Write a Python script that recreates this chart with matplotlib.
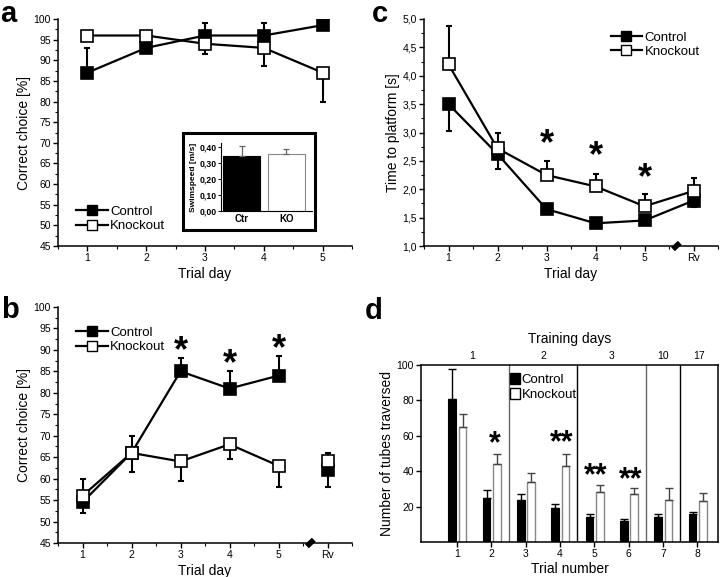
import numpy as np
import matplotlib.pyplot as plt
import matplotlib.transforms as mtransforms
from matplotlib.patches import Rectangle, Patch
from matplotlib.ticker import MultipleLocator, FuncFormatter

plt.rcParams['font.family'] = ['Liberation Sans', 'DejaVu Sans']

# ---- panel a: correct choice over 5 trial days ----
days_a = [1, 2, 3, 4, 5]
ctrl_a = [87, 93, 96, 96, 98.5]
ctrl_a_up = [6, 2.5, 3, 3, 1.2]
ko_a = [96, 96, 94, 93, 87]
ko_a_dn = [0, 0, 2.5, 4.5, 7]

# inset: swim speed
swim_groups = ['Ctr', 'KO']
swim_speed = [0.345, 0.357]
swim_err = [0.06, 0.03]

# ---- panel b: correct choice, with reversal (Rv) ----
day_labels = ['1', '2', '3', '4', '5', 'Rv']
ctrl_b = [54.5, 66, 85, 81, 84, 62]
ctrl_b_dn = [2.5, 4.5, 0, 0, 0, 4]
ctrl_b_up = [0, 0, 3, 4, 4.5, 0]
ko_b = [56, 66, 64, 68, 63, 64]
ko_b_dn = [0, 0, 4.5, 3.5, 5, 0]
ko_b_up = [4, 4, 0, 0, 0, 2]
star_b = [89.5, 86.5, 90]

# ---- panel c: time to platform ----
ctrl_c = [3.5, 2.62, 1.65, 1.4, 1.45, 1.8]
ctrl_c_dn = [0.48, 0.27, 0, 0, 0.07, 0.12]
ko_c = [4.2, 2.72, 2.25, 2.05, 1.7, 1.97]
ko_c_up = [0.67, 0.28, 0.25, 0.22, 0.22, 0.23]
star_c = [2.78, 2.57, 2.19]

# ---- panel d: tubes traversed ----
trials = [1, 2, 3, 4, 5, 6, 7, 8]
ctrl_d = [81, 25, 24, 19, 14, 12, 14, 16]
ctrl_d_err = [17, 4.5, 3, 2.5, 2, 1, 2, 1.2]
ko_d = [65, 44, 34, 43, 28, 27, 24, 23]
ko_d_err = [7.5, 6, 5, 7, 4, 3.5, 6.5, 4.5]
sig_d = ['', '*', '', '**', '**', '**', '', '']
sig_d_y = [0, 55, 0, 56, 37, 35, 0, 0]
training_days = ['1', '2', '3', '10', '17']
training_pos = [1.45, 3.5, 5.5, 7.0, 8.05]
day_bounds = [2.5, 4.5, 6.5, 7.5]

fig = plt.figure(figsize=(7.2, 5.77), dpi=100)

LW = 1.6
MS = 8.5


def style_axes(ax):
    ax.spines['top'].set_visible(False)
    ax.spines['right'].set_visible(False)
    for s in ['left', 'bottom']:
        ax.spines[s].set_linewidth(1.1)
    ax.tick_params(which='major', direction='out', length=3.5, width=1, labelsize=7.5, pad=1.5)
    ax.tick_params(which='minor', direction='out', length=2, width=0.8)


def draw_break(ax, x):
    tr = mtransforms.blended_transform_factory(ax.transData, ax.transAxes)
    ax.plot([x - 0.07, x + 0.07], [-0.014, 0.014], transform=tr, color='black',
            lw=4, clip_on=False, solid_capstyle='butt', zorder=5)


def series(ax, x, y, lo, hi, filled, connect=None):
    fc = 'black' if filled else 'white'
    n = len(x) if connect is None else connect
    ax.plot(x[:n], y[:n], color='black', lw=LW, zorder=2)
    ax.errorbar(x, y, yerr=[lo, hi], fmt='none', ecolor='black', elinewidth=1.5,
                capsize=2.5, capthick=1.5, zorder=2)
    ax.plot(x, y, 's', ms=MS, mfc=fc, mec='black', mew=1.2, linestyle='none',
            zorder=3 if filled else 4)


def line_legend(ax, **kw):
    h1, = ax.plot([], [], '-s', color='black', lw=LW, ms=7.5, mfc='black', mec='black')
    h2, = ax.plot([], [], '-s', color='black', lw=LW, ms=7.5, mfc='white', mec='black')
    ax.legend([h1, h2], ['Control', 'Knockout'], frameon=False, fontsize=9.5,
              handlelength=2.4, handletextpad=0.2, labelspacing=0.15, borderpad=0.2, **kw)


# ---------------- panel a ----------------
ax_a = fig.add_axes([58 / 720, 1 - 246 / 577, 294 / 720, 227 / 577])
style_axes(ax_a)
series(ax_a, days_a, ctrl_a, [0] * 5, ctrl_a_up, True)
series(ax_a, days_a, ko_a, ko_a_dn, [0] * 5, False)
ax_a.set_xlim(0.5, 5.5)
ax_a.set_ylim(45, 100)
ax_a.yaxis.set_major_locator(MultipleLocator(5))
ax_a.yaxis.set_minor_locator(MultipleLocator(2.5))
ax_a.xaxis.set_major_locator(MultipleLocator(1))
ax_a.xaxis.set_minor_locator(MultipleLocator(0.5))
ax_a.set_xlabel('Trial day', fontsize=10, labelpad=3)
ax_a.set_ylabel('Correct choice [%]', fontsize=10, labelpad=2)
line_legend(ax_a, loc='lower left', bbox_to_anchor=(0.03, 0.02))

# inset frame and axes
fig.add_artist(Rectangle((183 / 720, 1 - 230 / 577), 132 / 720, 97 / 577,
                         transform=fig.transFigure, fill=False, lw=2.2, ec='black'))
ax_i = fig.add_axes([221 / 720, 1 - 211 / 577, 91 / 720, 68 / 577])
ax_i.spines['top'].set_visible(False)
ax_i.spines['right'].set_visible(False)
ax_i.bar([0, 1], swim_speed, width=0.83, color=['black', 'white'],
         edgecolor=['black', '#888888'], lw=0.8)
ax_i.errorbar([0, 1], swim_speed, yerr=[[0, 0], swim_err], fmt='none', ecolor='#666666',
              elinewidth=0.9, capsize=2.5, capthick=0.9)
ax_i.set_xlim(-0.46, 1.58)
ax_i.set_ylim(0, 0.425)
ax_i.set_yticks([0, 0.1, 0.2, 0.3, 0.4])
ax_i.yaxis.set_major_formatter(FuncFormatter(lambda v, _: f'{v:.2f}'.replace('.', ',')))
ax_i.set_xticks([0, 1])
ax_i.set_xticklabels(swim_groups, fontweight='bold', fontsize=7)
ax_i.tick_params(axis='y', labelsize=6.3, length=2, width=0.7, pad=1)
ax_i.tick_params(axis='x', length=0, pad=2)
for lab in ax_i.get_yticklabels():
    lab.set_fontweight('bold')
ax_i.set_ylabel('Swimspeed [m/s]', fontsize=6, fontweight='bold', labelpad=2)
for s in ['left', 'bottom']:
    ax_i.spines[s].set_linewidth(0.8)

# ---------------- panel b ----------------
x6 = np.arange(1, 7)
ax_b = fig.add_axes([58 / 720, 1 - 543 / 577, 294 / 720, 236 / 577])
style_axes(ax_b)
series(ax_b, x6, ctrl_b, ctrl_b_dn, ctrl_b_up, True, connect=5)
series(ax_b, x6, ko_b, ko_b_dn, ko_b_up, False, connect=5)
ax_b.set_xlim(0.5, 6.5)
ax_b.set_ylim(45, 100)
ax_b.yaxis.set_major_locator(MultipleLocator(5))
ax_b.yaxis.set_minor_locator(MultipleLocator(2.5))
ax_b.set_xticks(x6)
ax_b.set_xticklabels(day_labels)
ax_b.xaxis.set_minor_locator(MultipleLocator(0.5))
ax_b.set_xlabel('Trial day', fontsize=10, labelpad=3)
ax_b.set_ylabel('Correct choice [%]', fontsize=10, labelpad=2)
for xi, yi in zip([3, 4, 5], star_b):
    ax_b.text(xi, yi, '*', fontsize=26, fontweight='bold', ha='center', va='center')
draw_break(ax_b, 5.65)
line_legend(ax_b, loc='upper left', bbox_to_anchor=(0.03, 0.955))

# ---------------- panel c ----------------
ax_c = fig.add_axes([424 / 720, 1 - 246 / 577, 294 / 720, 227 / 577])
style_axes(ax_c)
series(ax_c, x6, ctrl_c, ctrl_c_dn, [0] * 6, True)
series(ax_c, x6, ko_c, [0] * 6, ko_c_up, False)
ax_c.set_xlim(0.5, 6.5)
ax_c.set_ylim(1.0, 5.0)
ax_c.yaxis.set_major_locator(MultipleLocator(0.5))
ax_c.yaxis.set_minor_locator(MultipleLocator(0.25))
ax_c.yaxis.set_major_formatter(FuncFormatter(lambda v, _: f'{v:.1f}'.replace('.', ',')))
ax_c.set_xticks(x6)
ax_c.set_xticklabels(day_labels)
ax_c.xaxis.set_minor_locator(MultipleLocator(0.5))
ax_c.set_xlabel('Trial day', fontsize=10, labelpad=3)
ax_c.set_ylabel('Time to platform [s]', fontsize=10, labelpad=2)
for xi, yi in zip([3, 4, 5], star_c):
    ax_c.text(xi, yi, '*', fontsize=26, fontweight='bold', ha='center', va='center')
draw_break(ax_c, 5.65)
line_legend(ax_c, loc='upper right', bbox_to_anchor=(0.97, 0.985))

# ---------------- panel d ----------------
ax_d = fig.add_axes([421 / 720, 1 - 542 / 577, 297 / 720, 177 / 577])
t = np.array(trials)
ax_d.bar(t - 0.14, ctrl_d, width=0.22, color='black', edgecolor='black', lw=0.8)
ax_d.bar(t + 0.16, ko_d, width=0.22, color='white', edgecolor='#888888', lw=1.0)
ax_d.errorbar(t - 0.14, ctrl_d, yerr=[[0] * 8, ctrl_d_err], fmt='none', ecolor='black',
              elinewidth=1.0, capsize=3, capthick=1.0)
ax_d.errorbar(t + 0.16, ko_d, yerr=[[0] * 8, ko_d_err], fmt='none', ecolor='#444444',
              elinewidth=1.0, capsize=3, capthick=1.0)
for b, c in zip(day_bounds, ['#666666', 'black', '#666666', 'black']):
    ax_d.axvline(b, color=c, lw=1.0)
for xi, s, yi in zip(t, sig_d, sig_d_y):
    if s:
        ax_d.text(xi + 0.1 if s == '*' else xi + 0.05, yi, s, fontsize=22, fontweight='bold',
                  ha='center', va='center')
ax_d.set_xlim(-0.05, 8.6)
ax_d.set_ylim(0, 100)
ax_d.set_yticks([20, 40, 60, 80, 100])
ax_d.set_xticks(t)
ax_d.tick_params(direction='out', length=3.5, width=1, labelsize=7.5, pad=1.5)
for s in ax_d.spines.values():
    s.set_linewidth(1.1)
ax_d.set_xlabel('Trial number', fontsize=10, labelpad=2)
ax_d.set_ylabel('Number of tubes traversed', fontsize=10, labelpad=2)
tr_d = mtransforms.blended_transform_factory(ax_d.transData, ax_d.transAxes)
for p, lab in zip(training_pos, training_days):
    ax_d.text(p, 1.025, lab, transform=tr_d, fontsize=7.5, ha='center', va='bottom')
ax_d.text(0.5, 1.105, 'Training days', transform=ax_d.transAxes, fontsize=10,
          ha='center', va='bottom')
ax_d.legend([Patch(fc='black', ec='black'), Patch(fc='white', ec='black')],
            ['Control', 'Knockout'], frameon=False, fontsize=9.5, loc='upper left',
            bbox_to_anchor=(2.5, 96), bbox_transform=ax_d.transData,
            handlelength=0.8, handleheight=0.9, handletextpad=0.1, labelspacing=0.15,
            borderpad=0.1, borderaxespad=0)

# panel letters
fig.text(0.0, 1 - 22 / 577, 'a', fontsize=21, fontweight='bold', va='baseline')
fig.text(372 / 720, 1 - 22 / 577, 'c', fontsize=21, fontweight='bold', va='baseline')
fig.text(0.002, 1 - 318 / 577, 'b', fontsize=21, fontweight='bold', va='baseline')
fig.text(365 / 720, 1 - 319 / 577, 'd', fontsize=21, fontweight='bold', va='baseline')

fig.savefig('out.png', dpi=100)
